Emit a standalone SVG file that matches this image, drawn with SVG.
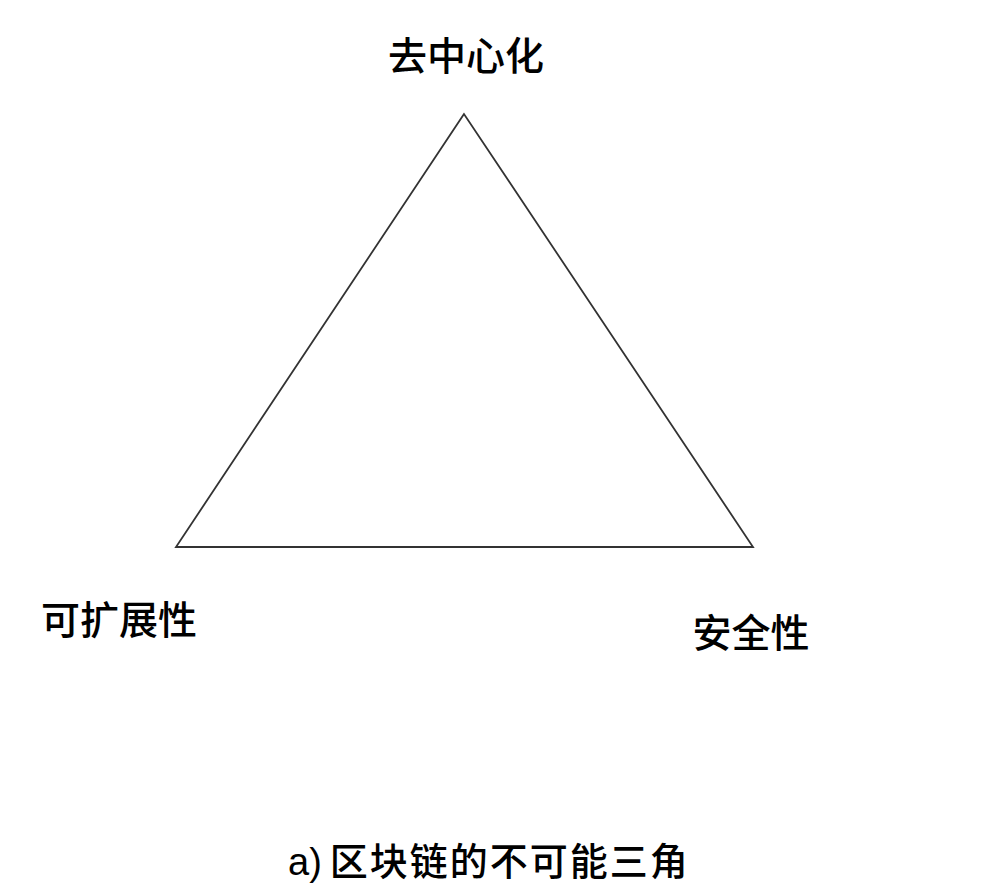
<svg xmlns="http://www.w3.org/2000/svg" width="1003" height="893" viewBox="0 0 1003 893">
<style>
.lbl{font-family:"Noto Sans CJK SC","Liberation Sans",sans-serif;font-size:39px;font-weight:500;fill:#000;}
.cap{font-family:"Liberation Sans","Noto Sans CJK SC",sans-serif;font-size:38px;fill:#000;}
</style>
<rect width="1003" height="893" fill="#fff"/>
<g id="connectors">
<polygon points="464,114 176,547 753,547" fill="none" stroke="#333" stroke-width="1.8" stroke-linejoin="miter"/>
</g>
<g id="node-decentral"><text class="lbl" x="466" y="70" text-anchor="middle">去中心化</text></g>
<g id="node-scal"><text class="lbl" x="119" y="634" text-anchor="middle">可扩展性</text></g>
<g id="node-sec"><text class="lbl" x="751" y="647" text-anchor="middle">安全性</text></g>
<g id="caption"><text class="cap" x="288" y="875"><tspan font-family="Liberation Sans,sans-serif">a)</tspan><tspan font-family="Noto Sans CJK SC,sans-serif" font-weight="500" letter-spacing="2" dx="8">区块链的不可能三角</tspan></text></g>
</svg>
